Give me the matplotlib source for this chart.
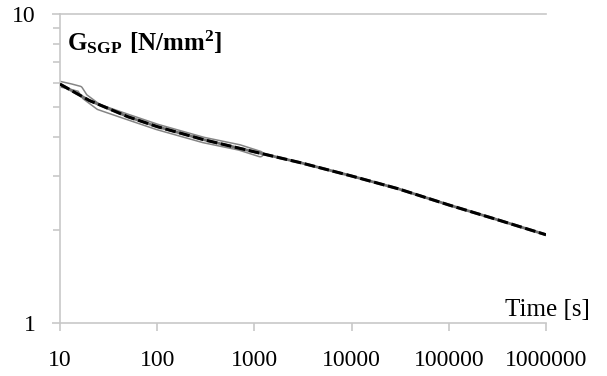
import matplotlib
matplotlib.use("Agg")
import matplotlib.pyplot as plt
from matplotlib.ticker import LogLocator, NullFormatter, FixedLocator

plt.rcParams["font.family"] = ["Liberation Serif", "DejaVu Serif"]
plt.rcParams["mathtext.fontset"] = "custom"
plt.rcParams["mathtext.rm"] = "Liberation Serif"
plt.rcParams["mathtext.bf"] = "Liberation Serif:bold"

# Long-term creep record, shear modulus over time
time_s = [10, 20, 50, 100, 300, 1000, 3000, 10000, 30000, 100000, 300000, 1000000]
modulus = [5.93, 5.25, 4.65, 4.32, 3.92, 3.58, 3.30, 2.99, 2.72, 2.41, 2.17, 1.93]

# Short-term test, overlaid on the first part of the record
time_short = [10, 13, 16, 18, 25, 50, 100, 300, 700, 1150]
modulus_short = [5.93, 5.82, 5.72, 5.40, 5.00, 4.64, 4.31, 3.91, 3.70, 3.52]

x_ticks = [10, 100, 1000, 10000, 100000, 1000000]
x_labels = ["10", "100", "1000", "10000", "100000", "1000000"]

fig = plt.figure(figsize=(6.07, 3.76), dpi=100)
ax = fig.add_axes([0.0988, 0.141, 0.8007, 0.8218])

grey = "#c8c8c8"

# short test: grey outlined band
ax.plot(time_short, modulus_short, color="#858585", lw=5.0, solid_capstyle="round", zorder=2)
ax.plot(time_short, modulus_short, color="white", lw=2.8, solid_capstyle="round", zorder=3)

# long record: grey base with black dashes on top
ax.plot(time_s, modulus, color="#707070", lw=2.0, zorder=4)
ax.plot(time_s, modulus, color="black", lw=2.2, dashes=(3.5, 1.2), zorder=5)

ax.set_xscale("log")
ax.set_yscale("log")
ax.set_xlim(10, 1000000)
ax.set_ylim(1, 10)

ax.xaxis.set_major_locator(FixedLocator(x_ticks))
ax.set_xticklabels(x_labels)
ax.xaxis.set_minor_locator(FixedLocator([]))
ax.yaxis.set_major_locator(FixedLocator([1, 10]))
ax.set_yticklabels(["1", "10"])
ax.yaxis.set_minor_locator(LogLocator(base=10, subs=range(2, 10)))
ax.yaxis.set_minor_formatter(NullFormatter())

ax.spines["right"].set_visible(False)
for side in ["left", "bottom", "top"]:
    ax.spines[side].set_color(grey)
    ax.spines[side].set_linewidth(1.2)

ax.tick_params(axis="x", which="major", direction="out", length=5.5, width=1.2,
               color=grey, labelsize=17, pad=14)
ax.tick_params(axis="y", which="both", direction="out", length=5, width=1.2,
               color=grey, labelsize=17, pad=12)
ax.tick_params(axis="y", which="major", length=5.5)

ax.text(0.015, 0.955, r"$\mathbf{G_{SGP}\ [N/mm^{2}]}$", transform=ax.transAxes,
        fontsize=18, ha="left", va="top")
ax.text(1.09, 0.008, "Time [s]", transform=ax.transAxes, fontsize=18,
        ha="right", va="bottom")

fig.savefig("out.png", dpi=100)
